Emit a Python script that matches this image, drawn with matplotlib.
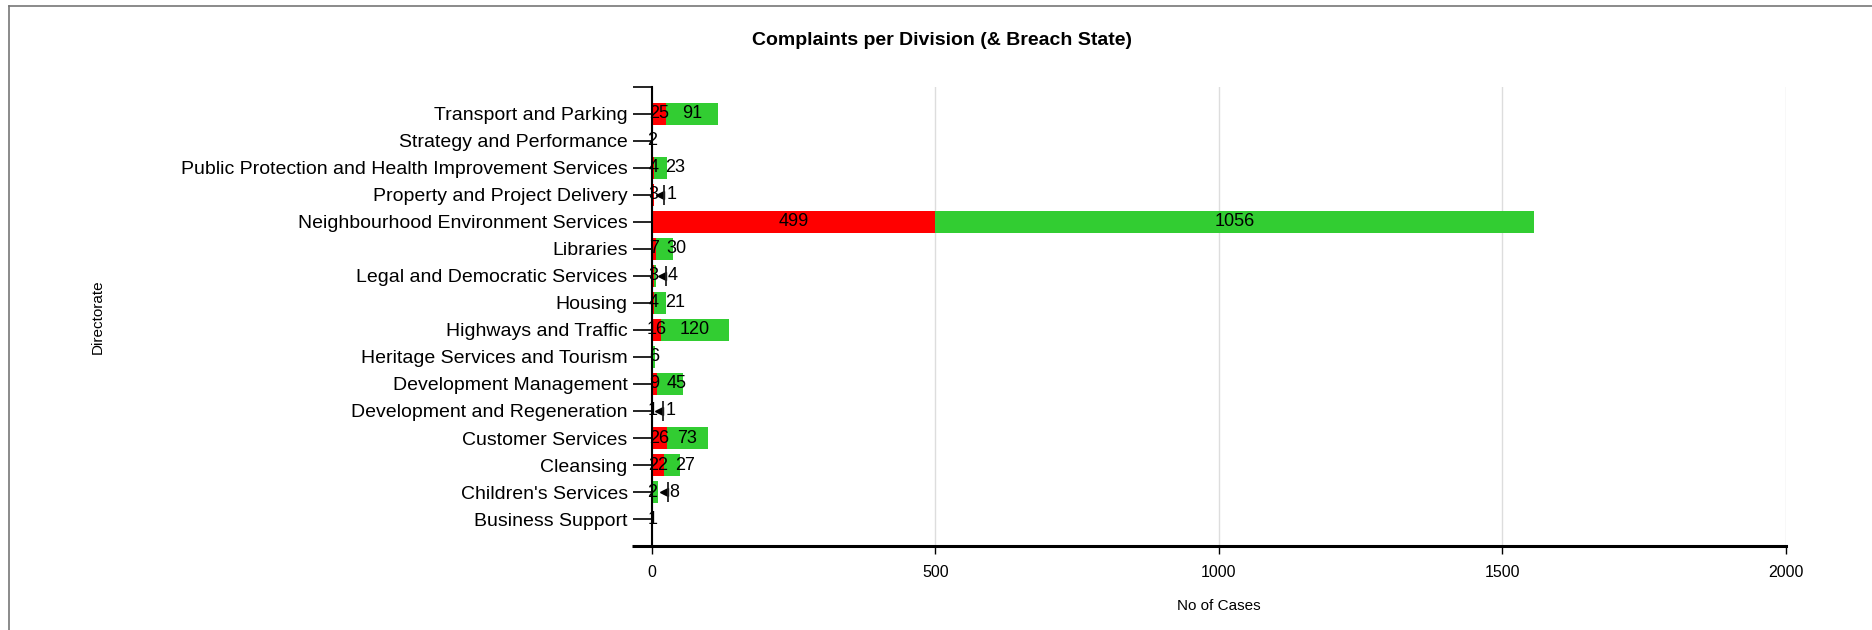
import numpy as np
import matplotlib
matplotlib.use("Agg")
import matplotlib.pyplot as plt
from matplotlib.transforms import offset_copy
from matplotlib.lines import Line2D

plt.rcParams['font.family'] = ['Liberation Sans', 'DejaVu Sans']

# divisions listed bottom to top (alphabetical)
divisions = [
    "Business Support",
    "Children's Services",
    "Cleansing",
    "Customer Services",
    "Development and Regeneration",
    "Development Management",
    "Heritage Services and Tourism",
    "Highways and Traffic",
    "Housing",
    "Legal and Democratic Services",
    "Libraries",
    "Neighbourhood Environment Services",
    "Property and Project Delivery",
    "Public Protection and Health Improvement Services",
    "Strategy and Performance",
    "Transport and Parking",
]
breached = [0, 2, 22, 26, 1, 9, 0, 16, 4, 3, 7, 499, 3, 4, 0, 25]
not_breached = [1, 8, 27, 73, 1, 45, 6, 120, 21, 4, 30, 1056, 1, 23, 2, 91]
x_ticks = [0, 500, 1000, 1500, 2000]

RED = '#ff0000'
GREEN = '#32cd32'

fig = plt.figure(figsize=(18.72, 6.3), dpi=100)
ax = fig.add_axes([0.3483, 0.1333, 0.6057, 0.7287])

y = np.arange(len(divisions))
red = np.array(breached)
green = np.array(not_breached)

ax.barh(y, red, height=0.8, color=RED, zorder=2)
ax.barh(y, green, left=red, height=0.8, color=GREEN, zorder=2)

ax.set_xlim(0, 2000)
ax.set_ylim(-1, len(divisions))

renderer = fig.canvas.get_renderer()

# value labels; the green label is nudged right when it would collide
for i in range(len(divisions)):
    r, g = red[i], green[i]
    red_txt = None
    if r > 0:
        red_txt = ax.text(r / 2, i, str(r), ha='center', va='center', fontsize=13, zorder=4)
    if g == 0:
        continue
    if r > 0 and g < 10:
        # small segment: label pushed out with a pointer
        end = r + g
        tri = offset_copy(ax.transData, fig=fig, x=6, y=0, units='dots')
        tick = offset_copy(ax.transData, fig=fig, x=10, y=0, units='dots')
        lab = offset_copy(ax.transData, fig=fig, x=17, y=0, units='dots')
        ax.plot(end, i, marker='<', ms=6, color='black', transform=tri, zorder=5)
        ax.plot(end, i, marker='|', ms=15, mew=1.3, color='#222222', transform=tick, zorder=5)
        ax.text(end, i, str(g), ha='center', va='center', fontsize=13,
                transform=lab, zorder=4)
        continue
    grn_txt = ax.text(r + g / 2, i, str(g), ha='center', va='center', fontsize=13, zorder=4)
    if red_txt is not None:
        rb = red_txt.get_window_extent(renderer)
        gb = grn_txt.get_window_extent(renderer)
        shift = rb.x1 + 7 - gb.x0
        if shift > 0:
            grn_txt.set_transform(offset_copy(ax.transData, fig=fig, x=shift, y=0, units='dots'))

ax.set_xticks(x_ticks)
ax.set_xticklabels([str(t) for t in x_ticks], fontsize=11.5)
ax.set_yticks(y)
ax.set_yticklabels(divisions, fontsize=14)
ax.set_yticks([-1, len(divisions)], minor=True)

ax.tick_params(axis='y', which='both', length=14, width=1.2, pad=3.5, direction='out')
ax.tick_params(axis='x', length=6, width=1, pad=8)

ax.grid(axis='x', color='#dddddd', linewidth=1, zorder=0)
ax.set_axisbelow(True)

for s in ['top', 'right']:
    ax.spines[s].set_visible(False)
ax.spines['left'].set_linewidth(1.5)
ax.spines['bottom'].set_linewidth(2.2)
ax.spines['bottom'].set_bounds(0, 2000)

# extend the baseline to the left by the tick length
ax.plot([-0.0176, 0], [0, 0], transform=ax.transAxes, color='black', lw=2.2,
        clip_on=False, zorder=3, solid_capstyle='butt')

ax.set_xlabel('No of Cases', fontsize=11, labelpad=13)
ax.set_ylabel('Directorate', fontsize=11)
ax.yaxis.set_label_coords(-0.483, 0.5)

fig.text(0.503, 0.935, 'Complaints per Division (& Breach State)', ha='center',
         va='center', fontsize=14, fontweight='bold')

# outer frame
fig.add_artist(Line2D([0.005, 0.005], [0.0, 0.99], color='#777777', lw=1.2))
fig.add_artist(Line2D([0.005, 1.0], [0.99, 0.99], color='#777777', lw=1.2))

fig.savefig('out.png', dpi=100)
